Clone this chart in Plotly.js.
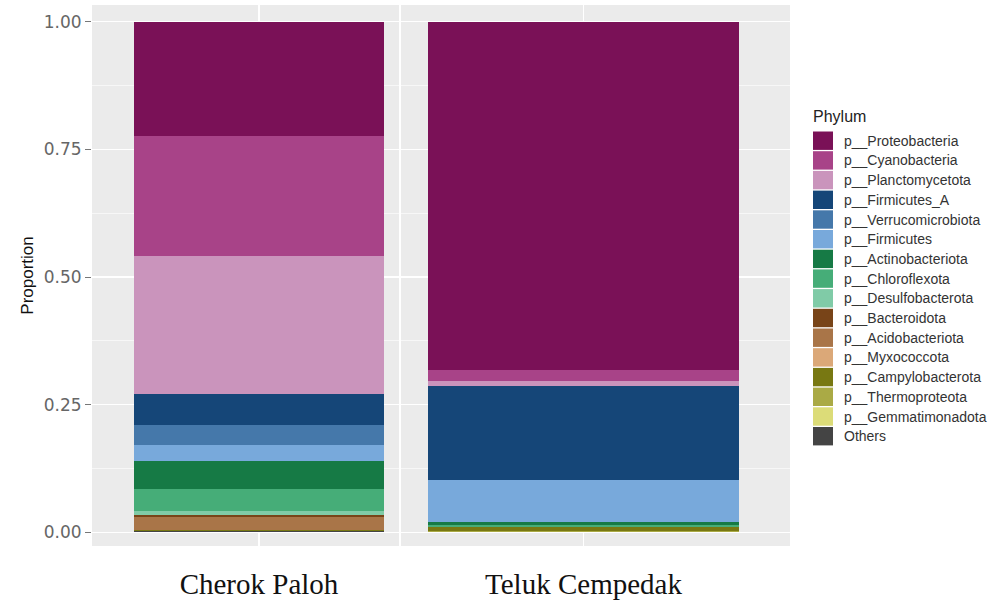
<!DOCTYPE html>
<html>
<head>
<meta charset="utf-8">
<script src="https://cdn.plot.ly/plotly-3.0.1.min.js"></script>
<style>
  html, body { margin: 0; padding: 0; background: #ffffff; }
  #chart { width: 994px; height: 602px; }
</style>
</head>
<body>
<div id="chart"></div>
<script>
// Sampling sites (one panel each)
const sites = ['Cherok Paloh', 'Teluk Cempedak'];

// Phyla in legend order (top of the stack first)
const phyla = [
  'p__Proteobacteria', 'p__Cyanobacteria', 'p__Planctomycetota', 'p__Firmicutes_A',
  'p__Verrucomicrobiota', 'p__Firmicutes', 'p__Actinobacteriota', 'p__Chloroflexota',
  'p__Desulfobacterota', 'p__Bacteroidota', 'p__Acidobacteriota', 'p__Myxococcota',
  'p__Campylobacterota', 'p__Thermoproteota', 'p__Gemmatimonadota', 'Others'
];

// Relative abundance per site, same order as phyla
const cherokPaloh = [0.224, 0.235, 0.270, 0.060, 0.040, 0.031, 0.056, 0.043,
                     0.008, 0.003, 0.025, 0.001, 0.002, 0.000, 0.000, 0.002];
const telukCempedak = [0.682, 0.022, 0.009, 0.184, 0.001, 0.081, 0.007, 0.003,
                       0.001, 0.000, 0.000, 0.000, 0.008, 0.001, 0.000, 0.001];

// Fill colours, same order as phyla
const phylumColors = [
  '#7A1157', '#A84388', '#CA94BC', '#154678', '#4578AA', '#78A9DB',
  '#167A45', '#46AD78', '#80CBA7', '#784418', '#A97548', '#DBA878',
  '#787812', '#AAAA45', '#DCDC78', '#444444'
];

const yTickVals = [0, 0.25, 0.5, 0.75, 1];
const yTickText = ['0.00', '0.25', '0.50', '0.75', '1.00'];

const siteValues = [cherokPaloh, telukCempedak];
const siteAxes = ['x', 'x2'];

// Stacked bars: add bottom-most phylum first so Proteobacteria ends on top
const traces = [];
for (let s = 0; s < sites.length; s++) {
  for (let k = phyla.length - 1; k >= 0; k--) {
    traces.push({
      type: 'bar',
      name: phyla[k],
      x: [sites[s]],
      y: [siteValues[s][k]],
      xaxis: siteAxes[s],
      yaxis: 'y',
      marker: { color: phylumColors[k], line: { width: 0 } },
      showlegend: false,
      hovertemplate: '%{x}<br>' + phyla[k] + ': %{y:.3f}<extra></extra>'
    });
  }
}

// Page geometry
const M = { l: 92, r: 204, t: 5, b: 56 };
const W = 994, H = 602;
const pw = W - M.l - M.r, ph = H - M.t - M.b;
const toPaperX = x => (x - M.l) / pw;
const toPaperY = y => (H - M.b - y) / ph;

// Legend drawn as colour keys plus labels
const shapes = [];
const annotations = [{
  text: 'Phylum', xref: 'paper', yref: 'paper',
  x: toPaperX(811), y: toPaperY(116), xanchor: 'left', yanchor: 'middle',
  showarrow: false, font: { family: 'Liberation Sans, Arial, sans-serif', size: 16, color: '#222' }
}];
for (let k = 0; k < phyla.length; k++) {
  const yc = 140.7 + 19.7 * k;
  shapes.push({
    type: 'rect', xref: 'paper', yref: 'paper', layer: 'above',
    x0: toPaperX(813), x1: toPaperX(833),
    y0: toPaperY(yc + 9.2), y1: toPaperY(yc - 9.2),
    fillcolor: phylumColors[k], line: { width: 0 }
  });
  annotations.push({
    text: phyla[k], xref: 'paper', yref: 'paper',
    x: toPaperX(842), y: toPaperY(yc), xanchor: 'left', yanchor: 'middle',
    showarrow: false, font: { family: 'Liberation Sans, Arial, sans-serif', size: 14, color: '#333' }
  });
}

const xCommon = {
  type: 'category',
  showgrid: true, gridcolor: '#ffffff', gridwidth: 1.2,
  ticks: '', showline: false, zeroline: false,
  tickfont: { family: 'Liberation Serif, Times New Roman, serif', size: 29, color: '#111' },
  ticklabelstandoff: 18,
  fixedrange: true
};

const layout = {
  width: W, height: H, autosize: false,
  margin: M,
  paper_bgcolor: '#ffffff',
  plot_bgcolor: '#EBEBEB',
  barmode: 'stack',
  bargap: 0.1,
  showlegend: false,
  xaxis: Object.assign({}, xCommon, { domain: [0, toPaperX(399)], range: [-0.601, 0.504], anchor: 'y' }),
  xaxis2: Object.assign({}, xCommon, { domain: [toPaperX(401), 1], range: [-0.528, 0.5975], anchor: 'y' }),
  yaxis: {
    range: [-0.027, 1.033],
    tickvals: yTickVals, ticktext: yTickText,
    ticks: 'outside', ticklen: 6, tickcolor: '#777', tickwidth: 1,
    tickfont: { family: 'DejaVu Sans, sans-serif', size: 17, color: '#666' },
    showgrid: true, gridcolor: '#ffffff', gridwidth: 1.2,
    minor: { dtick: 0.125, tick0: 0, showgrid: true, gridcolor: '#ffffff', gridwidth: 0.6 },
    zeroline: false, showline: false,
    title: {
      text: 'Proportion', standoff: 5,
      font: { family: 'Liberation Sans Narrow, Liberation Sans, Arial, sans-serif', size: 17, color: '#111' }
    },
    fixedrange: true
  },
  shapes: shapes,
  annotations: annotations
};

Plotly.newPlot('chart', traces, layout, { displayModeBar: false, staticPlot: true });
</script>
</body>
</html>
